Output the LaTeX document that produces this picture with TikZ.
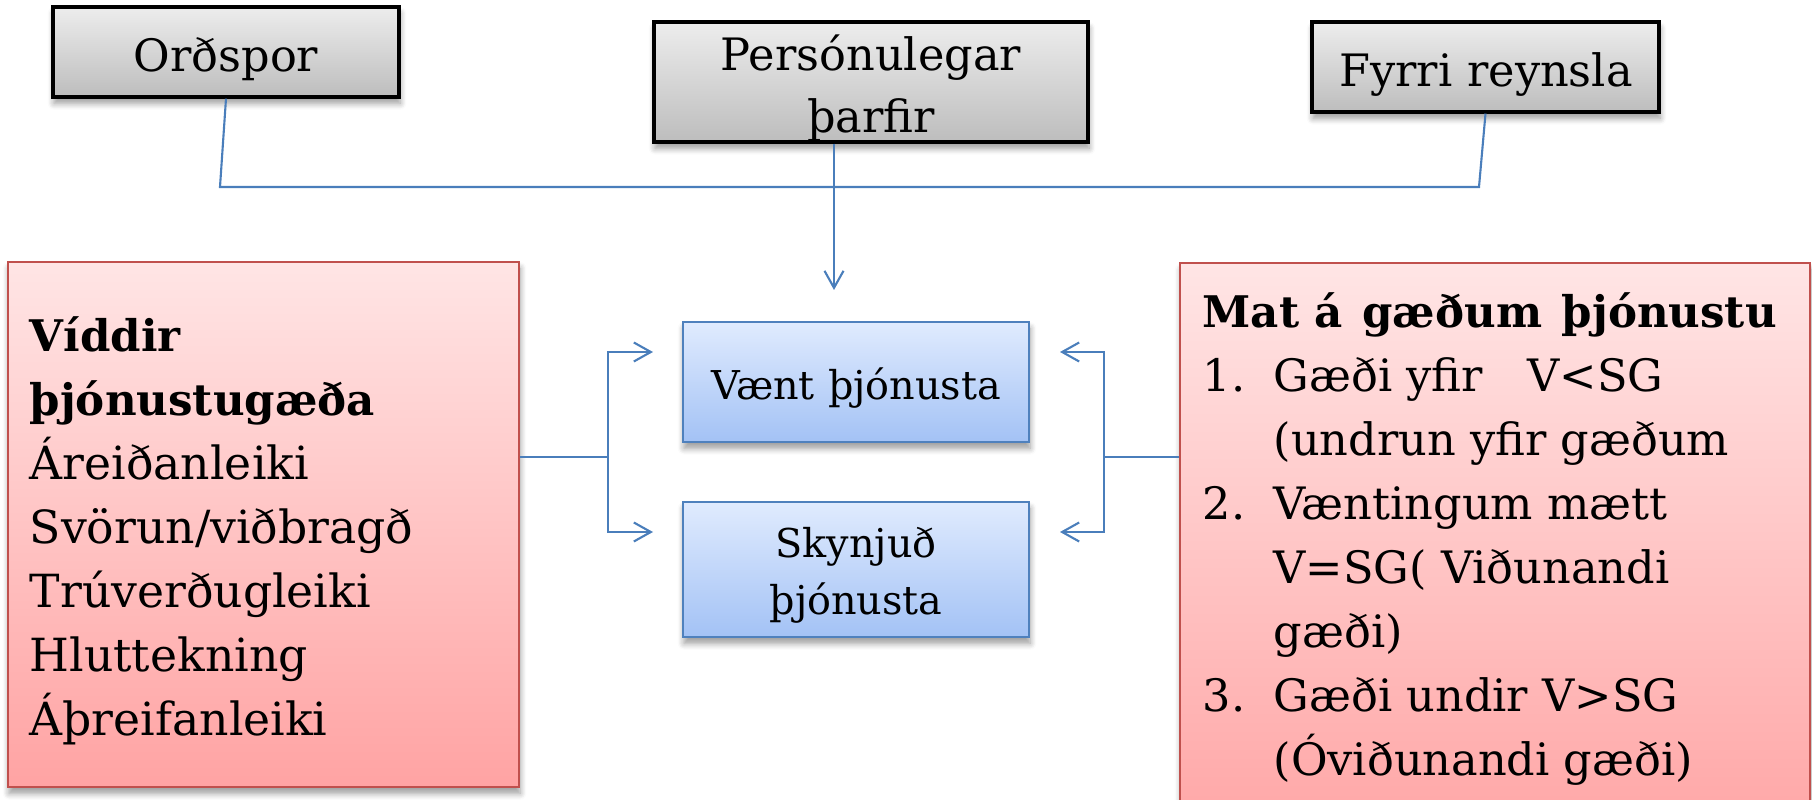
\documentclass[tikz,border=0pt]{standalone}
\usepackage{fontspec}
\setmainfont{DejaVu Serif}
\usetikzlibrary{arrows.meta, calc, positioning, shadows.blur}

\definecolor{linkblue}{HTML}{4A7EBB}
\definecolor{boxblue}{HTML}{4F81BD}
\definecolor{boxred}{HTML}{C0504D}
\definecolor{grayhi}{HTML}{EDEDED}
\definecolor{graylo}{HTML}{BDBDBD}
\definecolor{bluehi}{HTML}{E0EBFE}
\definecolor{bluelo}{HTML}{A3C2F5}
\definecolor{redhi}{HTML}{FFE5E5}
\definecolor{redlo}{HTML}{FFA3A3}

\begin{document}
\begin{tikzpicture}[x=1cm,y=1cm]
\tikzset{
  softshadow/.style={blur shadow={shadow xshift=0.3pt,shadow yshift=-1.8pt,shadow blur radius=1.8pt,shadow blur steps=6,shadow opacity=40}},
  graybox/.style={draw=black,line width=0.9pt,top color=grayhi,bottom color=graylo,softshadow},
  bluebox/.style={draw=boxblue,line width=0.7pt,top color=bluehi,bottom color=bluelo,softshadow},
  redbox/.style={draw=boxred,line width=0.7pt,top color=redhi,bottom color=redlo,softshadow},
  boxtext/.style={inner sep=0pt,anchor=base,align=center,text width=4cm},
  toptext/.style={boxtext,font=\fontsize{12.7}{17.4}\selectfont},
  bluetext/.style={boxtext,font=\fontsize{11.3}{16.2}\selectfont},
  conn/.style={draw=linkblue,line width=0.6pt},
  arr/.style={conn,-{Straight Barb[length=1.7mm,width=1.9mm]}}
}
\useasboundingbox (0,0) rectangle (18.12,-8.00);

% top boxes
\node[graybox,minimum width=3.46cm,minimum height=0.90cm] (ordspor) at (2.26,-0.52) {};
\node[graybox,minimum width=4.34cm,minimum height=1.20cm] (pers) at (8.71,-0.82) {};
\node[graybox,minimum width=3.47cm,minimum height=0.90cm] (fyrri) at (14.855,-0.67) {};
\node[toptext] (ordsportxt) at (2.26,-0.72) {Orðspor};
\node[toptext] (perstxt) at (8.71,-0.71) {Persónulegar\\þarfir};
\node[toptext] (fyrritxt) at (14.86,-0.87) {Fyrri reynsla};

% middle boxes
\node[bluebox,minimum width=3.46cm,minimum height=1.20cm] (vaent) at (8.56,-3.82) {};
\node[bluebox,minimum width=3.46cm,minimum height=1.35cm] (skynjud) at (8.56,-5.695) {};
\node[bluetext] (vaenttxt) at (8.56,-4.00) {Vænt þjónusta};
\node[bluetext] (skynjudtxt) at (8.56,-5.58) {Skynjuð\\þjónusta};

% side boxes
\node[redbox,minimum width=5.11cm,minimum height=5.25cm] (viddir) at (2.635,-5.245) {};
\node[redbox,anchor=north west,minimum width=6.30cm,minimum height=6.00cm] (mat) at (11.79,-2.62) {};

\node[inner sep=0pt,anchor=base west,align=left,text width=4.8cm,
  font=\fontsize{13}{18.2}\selectfont] (viddirtxt) at (0.29,-3.52)
  {{\fontsize{12.4}{18.2}\selectfont\bfseries Víddir}\\{\fontsize{12.4}{18.2}\selectfont\bfseries þjónustugæða}\\Áreiðanleiki\\Svörun/viðbragð\\Trúverðugleiki\\Hluttekning\\Áþreifanleiki};

\node[inner sep=0pt,anchor=base west,font=\fontsize{12.7}{18.2}\selectfont] (mattxt) at (12.02,-3.28) {%
  \begin{tabular}[t]{@{}p{0.71cm}@{}l@{}}
  \multicolumn{2}{@{}l@{}}{\fontsize{12.4}{18.2}\selectfont\bfseries Mat á\hspace{0.45em}gæðum\hspace{0.45em}þjónustu}\\
  1. & Gæði yfir\quad V<SG\\
     & (undrun yfir gæðum\\
  2. & Væntingum mætt\\
     & V=SG( Viðunandi\\
     & gæði)\\
  3. & Gæði undir V>SG\\
     & (Óviðunandi gæði)
  \end{tabular}};

% connectors
\coordinate (jl) at (2.20,-1.87);
\coordinate (jr) at (14.79,-1.87);
\coordinate (tipv) at (8.34,-2.90);
\draw[conn] (ordspor.south) -- (jl) -- (jr) -- (fyrri.south);
\draw[arr] (pers.south -| tipv) -- (tipv);

\coordinate (lb) at (6.08,-4.57);
\coordinate (la1) at (6.53,-3.52);
\coordinate (la2) at (6.53,-5.32);
\draw[conn] (viddir.east |- lb) -- (lb);
\draw[arr] (lb) |- (la1);
\draw[arr] (lb) |- (la2);

\coordinate (rb) at (11.04,-4.57);
\coordinate (ra1) at (10.60,-3.52);
\coordinate (ra2) at (10.60,-5.32);
\draw[conn] (mat.west |- rb) -- (rb);
\draw[arr] (rb) |- (ra1);
\draw[arr] (rb) |- (ra2);
\end{tikzpicture}
\end{document}
